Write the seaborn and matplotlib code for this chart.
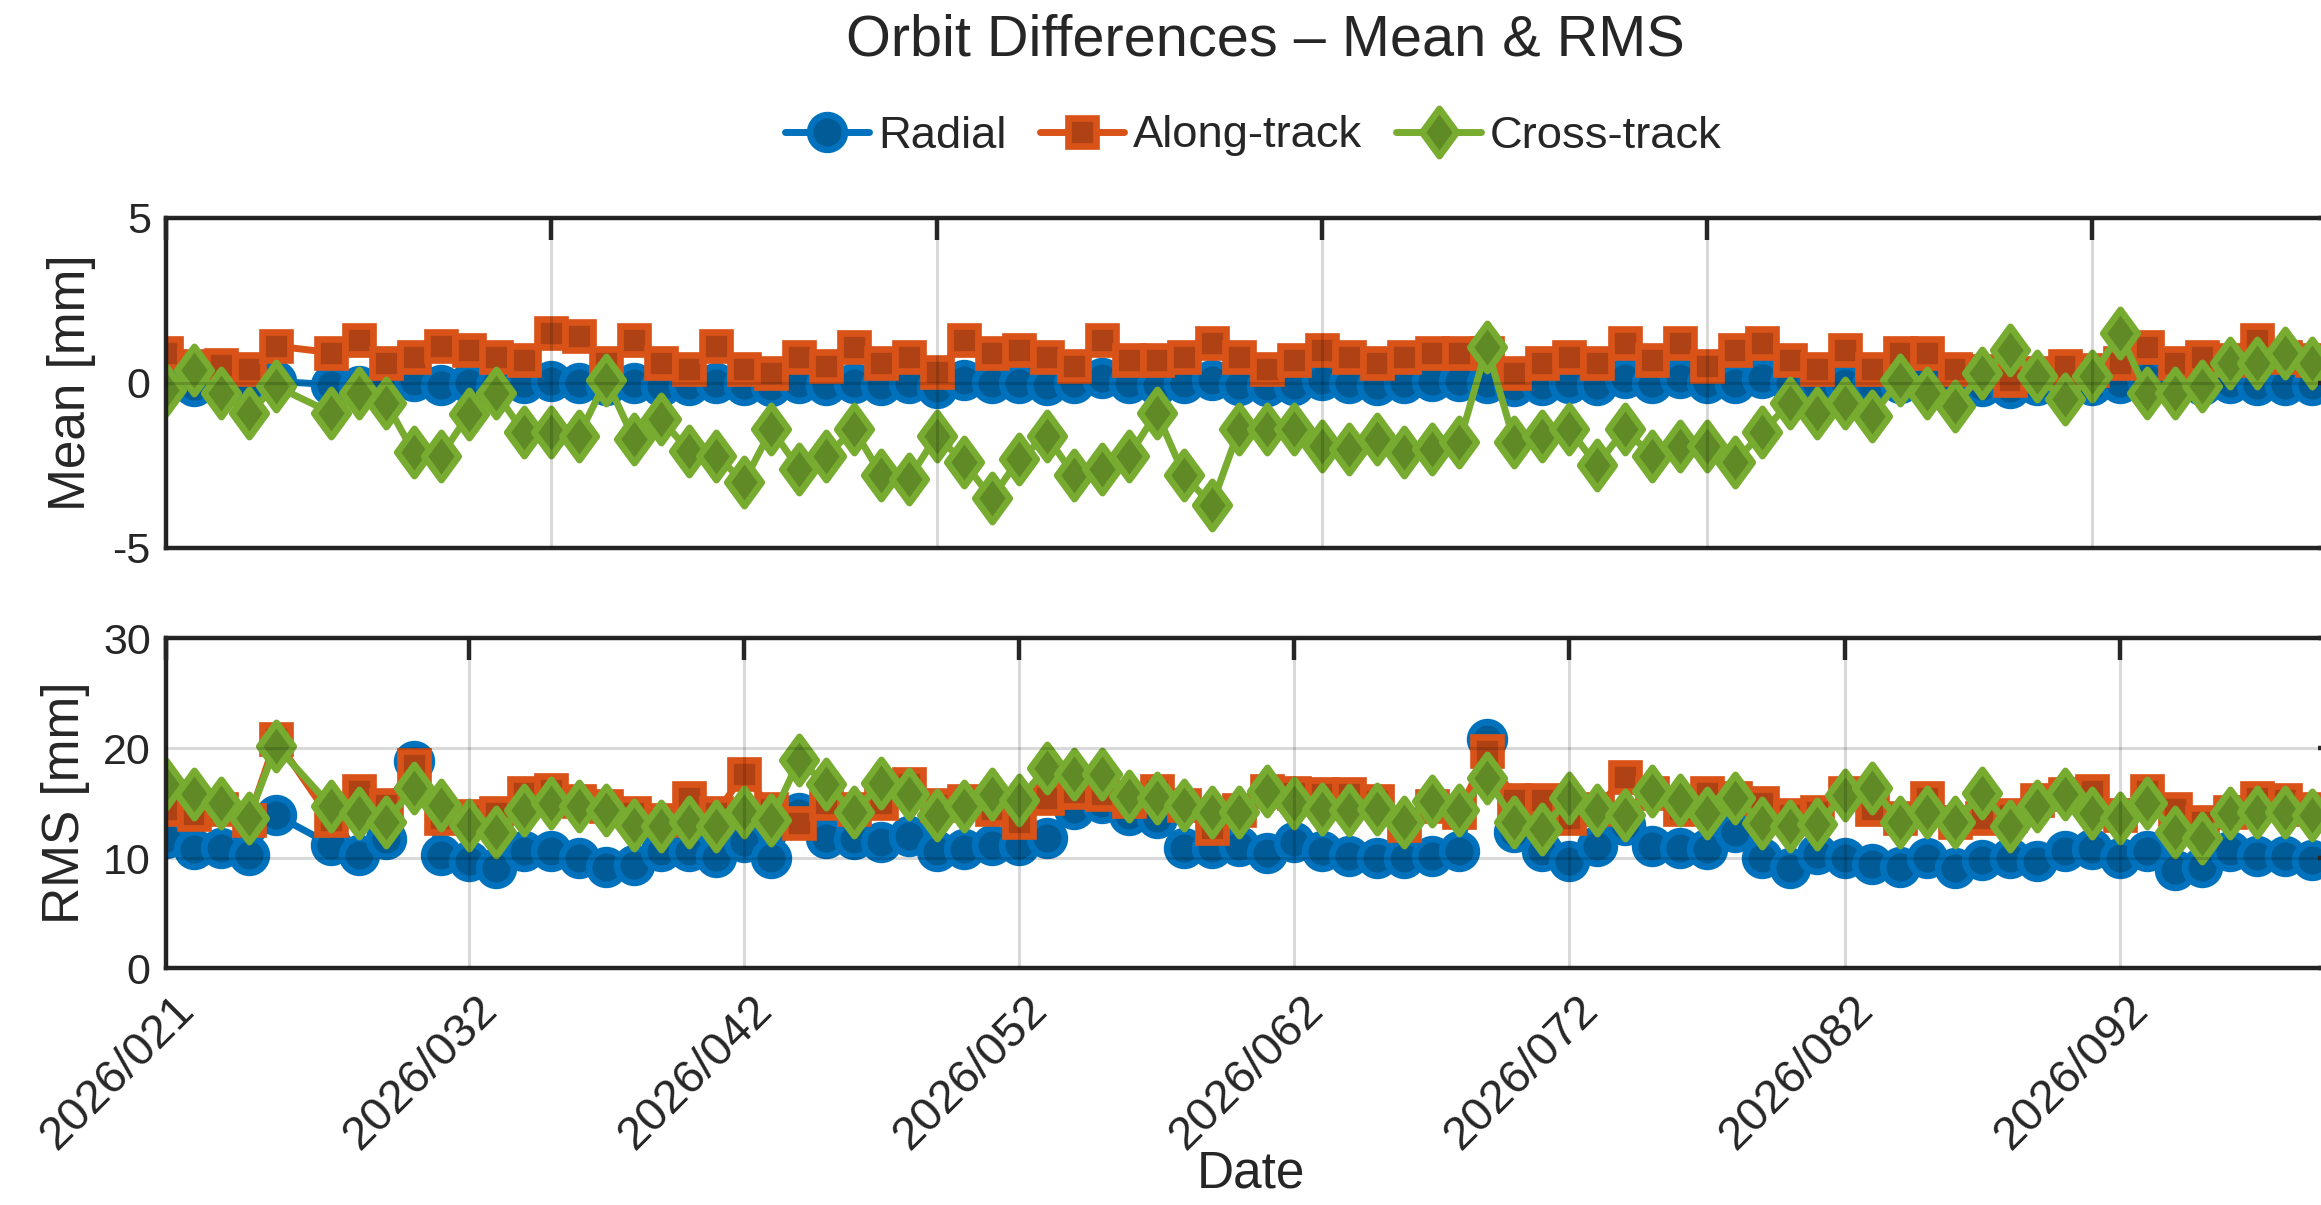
import matplotlib
matplotlib.use("Agg")
import matplotlib.pyplot as plt
import matplotlib.transforms as mtransforms
from matplotlib.markers import MarkerStyle
from matplotlib.path import Path
import numpy as np
import pandas as pd
import seaborn as sns

# ---------------- data (day of year 2026) ----------------
days = [21, 22, 23, 24, 25] + list(range(27, 100))

radial_mean = [-0.05, -0.1, 0.0, -0.05, 0.05, -0.05, -0.1, 0.0, 0.05, -0.05,
               0.0, -0.05, 0.0, 0.05, 0.0, -0.05, 0.0, -0.1, -0.05, 0.0,
               -0.05, -0.1, 0.0, -0.05, 0.0, -0.05, 0.0, -0.15, 0.1, 0.0,
               0.0, -0.05, 0.0, 0.15, 0.0, -0.05, 0.0, 0.1, -0.05, -0.1,
               -0.05, 0.1, 0.0, -0.05, 0.0, 0.05, 0.05, 0.0, -0.1, -0.05,
               0.0, -0.05, 0.15, 0.0, 0.15, 0.0, 0.0, 0.15, 0.0, -0.05,
               0.0, -0.05, 0.0, 0.1, 0.0, -0.1, -0.15, -0.05, 0.0, -0.05,
               0.0, 0.15, 0.0, -0.05, 0.0, -0.05, -0.05, -0.05]
along_mean = [0.9, 0.5, 0.55, 0.42, 1.12, 0.92, 1.31, 0.62, 0.8, 1.11,
              1.0, 0.8, 0.7, 1.51, 1.41, 0.6, 1.31, 0.6, 0.42, 1.11,
              0.42, 0.3, 0.8, 0.52, 1.1, 0.62, 0.8, 0.32, 1.3, 0.92,
              1.0, 0.8, 0.52, 1.3, 0.7, 0.7, 0.8, 1.2, 0.8, 0.42,
              0.7, 1.0, 0.8, 0.62, 0.8, 0.92, 0.92, 0.9, 0.3, 0.62,
              0.8, 0.62, 1.2, 0.7, 1.2, 0.52, 1.0, 1.2, 0.7, 0.42,
              1.0, 0.42, 0.92, 0.92, 0.42, 0.35, 0.1, 0.3, 0.52, 0.4,
              0.6, 1.1, 0.62, 0.8, 0.7, 1.3, 0.8, 0.7]
cross_mean = [-0.2, 0.4, -0.3, -0.9, -0.1, -0.9, -0.3, -0.6, -2.1, -2.2,
              -0.95, -0.3, -1.5, -1.5, -1.6, 0.1, -1.7, -1.1, -2.06, -2.2,
              -3.0, -1.4, -2.6, -2.2, -1.4, -2.8, -2.9, -1.6, -2.4, -3.5,
              -2.3, -1.6, -2.8, -2.6, -2.2, -0.9, -2.8, -3.7, -1.4, -1.4,
              -1.4, -1.9, -2.0, -1.7, -2.1, -2.0, -1.8, 1.1, -1.8, -1.6,
              -1.4, -2.5, -1.4, -2.2, -1.9, -1.9, -2.4, -1.5, -0.6, -0.9,
              -0.6, -1.0, 0.1, -0.3, -0.7, 0.3, 1.0, 0.2, -0.5, 0.2,
              1.5, -0.3, -0.3, -0.1, 0.6, 0.6, 0.9, 0.6]

radial_rms = [11.8, 10.8, 10.9, 10.3, 13.9, 11.2, 10.3, 11.7, 18.8, 10.3,
              9.7, 9.1, 10.6, 10.6, 10.0, 9.2, 9.4, 10.6, 10.6, 10.1,
              11.5, 10.0, 14.1, 11.8, 11.7, 11.5, 12.0, 10.6, 10.8, 11.2,
              11.2, 11.8, 14.5, 15.0, 13.9, 13.6, 10.9, 10.9, 11.1, 10.5,
              11.5, 10.6, 10.2, 10.0, 10.0, 10.2, 10.6, 20.8, 12.4, 10.6,
              9.7, 11.1, 13.0, 11.1, 10.9, 10.8, 12.4, 10.0, 9.1, 10.4,
              10.0, 9.5, 9.2, 10.0, 9.1, 9.8, 10.0, 9.7, 10.6, 10.8,
              10.0, 10.6, 8.9, 9.2, 10.6, 10.2, 10.2, 9.8]
along_rms = [14.5, 14.0, 14.5, 13.5, 20.8, 13.5, 16.1, 14.8, 18.5, 13.6,
             13.8, 14.1, 15.9, 16.2, 15.2, 14.7, 14.1, 13.5, 15.5, 14.1,
             17.6, 14.5, 13.2, 15.0, 14.5, 15.0, 16.7, 14.8, 15.2, 14.5,
             13.3, 15.5, 16.0, 15.8, 15.2, 16.1, 14.8, 12.7, 14.4, 16.1,
             15.9, 15.8, 15.8, 15.2, 13.0, 14.7, 14.2, 19.7, 15.3, 15.3,
             13.6, 14.5, 17.4, 15.9, 14.5, 15.9, 15.5, 15.0, 13.9, 14.2,
             15.9, 14.5, 13.6, 15.5, 13.3, 13.6, 13.9, 15.3, 15.8, 16.1,
             13.9, 16.1, 14.5, 13.3, 14.2, 15.5, 15.3, 14.5]
cross_rms = [16.7, 15.8, 15.0, 13.6, 20.2, 14.7, 14.1, 13.3, 16.4, 14.8,
             13.0, 12.4, 14.4, 15.0, 14.7, 14.4, 13.0, 12.9, 13.3, 12.9,
             14.2, 13.5, 18.9, 16.7, 14.2, 16.8, 15.8, 13.9, 14.7, 15.8,
             15.3, 18.2, 17.6, 17.6, 15.6, 15.5, 14.8, 14.2, 14.2, 16.1,
             15.0, 14.5, 14.4, 14.5, 13.3, 15.2, 14.4, 17.3, 13.3, 12.6,
             15.5, 14.4, 13.9, 16.1, 15.3, 14.1, 15.5, 13.2, 12.9, 13.1,
             15.7, 16.4, 13.3, 14.2, 13.3, 15.9, 12.9, 14.7, 15.8, 14.1,
             13.6, 15.0, 12.4, 11.8, 14.1, 14.2, 14.2, 13.9]

series_names = ["Radial", "Along-track", "Cross-track"]
top_ticks = [21, 35, 49, 63, 77, 91]
bottom_ticks = [21, 32, 42, 52, 62, 72, 82, 92]
bottom_ticklabels = [f"2026/{d:03d}" for d in bottom_ticks]

# ---------------- style ----------------
sns.set_theme(style="white")
plt.rcParams["font.family"] = ["Liberation Sans", "DejaVu Sans"]
plt.rcParams["axes.unicode_minus"] = False

colors = ["#0072BD", "#D95319", "#77AC30"]
faces = ["#005B97", "#AE4214", "#5F8A26"]
diamond = MarkerStyle(Path([(0, 1), (0.73, 0), (0, -1), (-0.73, 0), (0, 1)],
                           [Path.MOVETO, Path.LINETO, Path.LINETO, Path.LINETO, Path.CLOSEPOLY]),
                      joinstyle="miter")
markers = ["o", "s", diamond]
msizes = [25, 20.5, 34]
LW = 5.0
MEW = 4.8

W, H = 2321, 1205
fig = plt.figure(figsize=(W / 100, H / 100), dpi=100)
right = 2340
ax1 = fig.add_axes([166 / W, 1 - 548 / H, (right - 166) / W, (548 - 218) / H])
ax2 = fig.add_axes([166 / W, 1 - 968 / H, (right - 166) / W, (968 - 638) / H])

mean_df = pd.DataFrame({"day": days, "Radial": radial_mean,
                        "Along-track": along_mean, "Cross-track": cross_mean})
rms_df = pd.DataFrame({"day": days, "Radial": radial_rms,
                       "Along-track": along_rms, "Cross-track": cross_rms})

for ax, df in [(ax1, mean_df), (ax2, rms_df)]:
    for name, c, fc, m, ms in zip(series_names, colors, faces, markers, msizes):
        sns.lineplot(data=df, x="day", y=name, ax=ax, color=c, marker=m,
                     markersize=ms, markeredgewidth=MEW, markeredgecolor=c,
                     markerfacecolor=fc, linewidth=LW, errorbar=None,
                     label=name, legend=False)

spine_c = "#262626"
for ax in (ax1, ax2):
    ax.set_xlim(21, 100)
    ax.grid(True, color="black", alpha=0.15, linewidth=2.2)
    ax.set_axisbelow(False)
    for s in ax.spines.values():
        s.set_linewidth(3.2)
        s.set_color(spine_c)
    ax.tick_params(direction="in", length=16, width=3.2, color=spine_c,
                   top=True, right=True, labelsize=31, labelcolor=spine_c, pad=11)

ax1.set_ylim(-5, 5)
ax1.set_yticks([-5, 0, 5])
ax1.set_xticks(top_ticks)
ax1.tick_params(labelbottom=False)
ax1.set_xlabel("")
ax1.set_ylabel("Mean [mm]", fontsize=37, color=spine_c)
ax1.yaxis.set_label_coords(-0.032, 0.5)

ax2.set_ylim(0, 30)
ax2.set_yticks([0, 10, 20, 30])
ax2.set_xticks(bottom_ticks)
ax2.set_xticklabels(bottom_ticklabels, rotation=45, ha="right", va="center",
                    rotation_mode="anchor", fontsize=34)
ax2.tick_params(axis="x", pad=25)
off = mtransforms.ScaledTranslation(22 / 100, 0, fig.dpi_scale_trans)
for lab in ax2.get_xticklabels():
    lab.set_transform(lab.get_transform() + off)
ax2.set_ylabel("RMS [mm]", fontsize=37, color=spine_c)
ax2.yaxis.set_label_coords(-0.035, 0.5)
ax2.set_xlabel("Date", fontsize=37, color=spine_c)
ax2.xaxis.set_label_coords(0.499, -0.55)

fig.text(1265 / W, 1 - 41 / H, "Orbit Differences \u2013 Mean & RMS",
         ha="center", va="center", fontsize=41.5, color=spine_c)

handles, labels = ax1.get_legend_handles_labels()
fig.legend(handles[:3], labels[:3], loc="center", ncol=3,
           bbox_to_anchor=(1253 / W, 1 - 136 / H), frameon=False,
           fontsize=32.7, handlelength=1.85, handletextpad=0.2,
           columnspacing=0.75, labelcolor=spine_c)

fig.savefig("out.png", dpi=100)
